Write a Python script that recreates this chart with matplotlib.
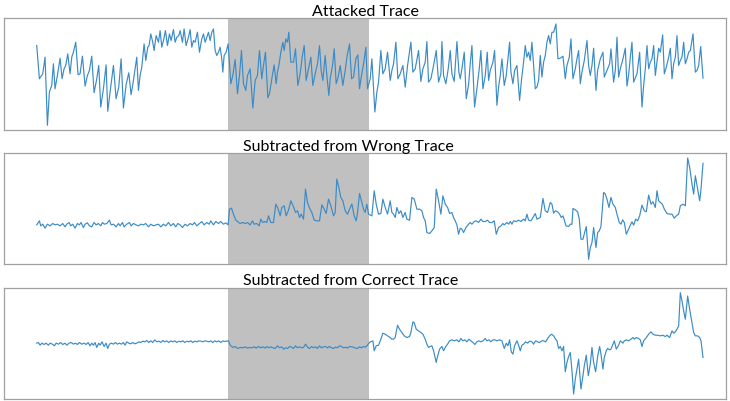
import matplotlib.pyplot as plt

# sample index / amplitude pairs for the three traces
attacked_t = [0, 8, 18, 25, 32, 38, 45, 50, 55, 62, 70, 76, 82, 87, 93, 100, 105, 110, 117, 124,
              130, 137, 145, 152, 158, 165, 172, 180, 186, 192, 200, 208, 213, 220, 230, 238, 246, 253, 260, 268,
              276, 283, 290, 300, 305, 310, 315, 322, 327, 333, 337, 342, 348, 352, 358, 365, 370, 375, 380, 386,
              392, 398, 403, 410, 415, 420, 426, 430, 437, 442, 448, 455, 460, 465, 470, 475, 482, 488, 495, 500,
              505, 510, 515, 520, 525, 530, 535, 540, 545, 550, 555, 558, 562, 568, 574, 578, 582, 588, 595, 602,
              608, 614, 620, 627, 632, 640, 648, 655, 662, 668, 675, 680, 686, 693, 698, 705, 712, 718, 722, 727,
              732, 738, 742, 747, 752, 756, 762, 770, 776, 783, 790, 796, 802, 808, 815, 822, 828, 835, 842, 848,
              853, 858, 865, 870, 876, 880, 887, 892, 898, 904, 910, 918, 925, 931, 938, 944, 950, 957, 963, 968,
              974, 980, 987, 992, 1000, 1005, 1014, 1020, 1025, 1032, 1038, 1045, 1052, 1060, 1065, 1070, 1077, 1083, 1090, 1098,
              1105, 1112, 1122, 1128, 1135, 1145, 1152, 1158, 1165, 1170, 1175, 1182, 1190, 1198, 1205, 1212, 1215, 1220, 1227, 1234,
              1240, 1245, 1252, 1260, 1266, 1270, 1275, 1282, 1288, 1295, 1300, 1305, 1313, 1320, 1327, 1332, 1338, 1345, 1351, 1355,
              1360, 1368, 1373, 1380, 1385, 1390, 1395, 1402, 1408, 1418, 1422, 1428, 1433, 1440, 1448, 1454, 1460, 1465, 1470, 1475,
              1480, 1485, 1490, 1495, 1500, 1505, 1510, 1515, 1520, 1525, 1530, 1535, 1540, 1545, 1550, 1557, 1563, 1570, 1578, 1585,
              1590, 1597, 1602, 1608, 1615, 1620, 1625, 1630, 1635, 1642, 1650, 1655, 1660, 1665, 1670, 1677, 1682, 1690, 1698, 1702,
              1710, 1718, 1722, 1730, 1735, 1740, 1745, 1750, 1758, 1765, 1770, 1775, 1780, 1785, 1790, 1800, 1808, 1815, 1820, 1825,
              1830, 1835, 1840, 1845, 1850, 1855, 1860, 1865, 1870, 1877, 1882, 1888, 1895, 1900, 1905, 1910, 1915, 1920, 1925, 1930,
              1935, 1940, 1945, 1950, 1955, 1960, 1968, 1975, 1980, 1985, 1991, 1998]
attacked_v = [260, 160, 175, 225, 20, 120, 140, 205, 130, 170, 222, 160, 190, 200, 235, 175, 225, 240, 270, 172,
              175, 228, 138, 170, 185, 228, 118, 160, 200, 75, 130, 202, 62, 120, 200, 100, 135, 220, 72, 142,
              178, 112, 155, 225, 125, 170, 195, 265, 215, 255, 260, 295, 270, 245, 290, 270, 305, 255, 275, 305,
              260, 295, 275, 308, 270, 285, 290, 305, 270, 310, 260, 285, 308, 255, 275, 270, 300, 240, 280, 295,
              270, 285, 300, 275, 300, 310, 245, 230, 240, 255, 220, 180, 230, 240, 265, 205, 145, 170, 218, 115,
              170, 245, 145, 125, 170, 190, 72, 155, 170, 245, 160, 200, 240, 103, 115, 160, 202, 145, 180, 205,
              240, 270, 245, 280, 270, 300, 210, 210, 250, 140, 175, 225, 260, 155, 190, 225, 140, 175, 205, 260,
              185, 155, 230, 170, 110, 160, 200, 250, 145, 165, 200, 140, 185, 230, 265, 160, 165, 220, 232, 130,
              170, 205, 255, 130, 160, 220, 60, 120, 150, 245, 175, 190, 240, 155, 185, 205, 270, 160, 175, 200,
              135, 200, 270, 180, 190, 245, 152, 190, 210, 272, 150, 160, 200, 245, 150, 175, 272, 170, 145, 190,
              245, 175, 152, 272, 180, 160, 190, 240, 100, 142, 205, 260, 75, 130, 190, 245, 130, 170, 240, 155,
              185, 210, 245, 80, 135, 170, 220, 140, 170, 270, 180, 145, 185, 200, 95, 160, 210, 260, 225, 240,
              215, 270, 200, 130, 135, 155, 230, 165, 210, 230, 270, 290, 265, 300, 300, 325, 220, 222, 228, 160,
              200, 225, 280, 160, 190, 220, 245, 145, 180, 215, 275, 200, 170, 200, 252, 125, 185, 220, 240, 165,
              185, 205, 250, 150, 185, 285, 165, 190, 220, 252, 138, 172, 225, 270, 150, 175, 240, 75, 140, 190,
              260, 190, 210, 220, 260, 170, 210, 252, 240, 292, 175, 195, 225, 252, 160, 205, 225, 290, 200, 215,
              225, 270, 205, 220, 240, 245, 295, 180, 185, 200, 257, 162]

wrong_t = [0, 8, 12, 18, 25, 32, 40, 48, 55, 62, 70, 78, 85, 90, 97, 102, 108, 115, 122, 128,
           133, 140, 145, 152, 158, 165, 172, 178, 185, 192, 197, 203, 210, 218, 223, 230, 238, 245, 250, 257,
           262, 270, 278, 283, 290, 298, 305, 312, 320, 327, 335, 342, 350, 358, 365, 372, 380, 387, 395, 402,
           410, 417, 423, 430, 437, 445, 452, 460, 467, 473, 480, 488, 495, 502, 510, 517, 522, 530, 537, 545,
           552, 560, 567, 574, 578, 584, 590, 597, 602, 610, 617, 625, 632, 640, 647, 652, 660, 667, 672, 678,
           685, 690, 695, 702, 710, 717, 723, 730, 735, 742, 748, 755, 762, 770, 776, 782, 788, 793, 800, 806,
           812, 818, 825, 832, 840, 848, 855, 862, 868, 875, 882, 890, 895, 900, 907, 912, 918, 925, 932, 938,
           945, 952, 958, 962, 968, 975, 980, 985, 990, 995, 1005, 1012, 1018, 1025, 1032, 1038, 1045, 1052, 1060, 1065,
           1070, 1075, 1080, 1086, 1092, 1098, 1105, 1110, 1118, 1125, 1132, 1140, 1148, 1155, 1160, 1165, 1170, 1178, 1185, 1192,
           1198, 1205, 1212, 1218, 1225, 1232, 1238, 1245, 1250, 1255, 1260, 1265, 1270, 1275, 1280, 1287, 1295, 1300, 1305, 1312,
           1318, 1325, 1332, 1338, 1345, 1352, 1358, 1365, 1372, 1378, 1385, 1392, 1398, 1402, 1410, 1415, 1420, 1425, 1430, 1438,
           1445, 1452, 1460, 1465, 1470, 1475, 1482, 1488, 1495, 1500,
           1510, 1518, 1525, 1532, 1540, 1545, 1550, 1555, 1562, 1568, 1573, 1578, 1582, 1587, 1595, 1600, 1605, 1608, 1615, 1622,
           1627, 1632, 1638, 1643, 1648, 1655, 1660, 1665, 1670, 1677, 1682, 1687, 1692, 1700, 1705, 1710, 1716, 1722, 1728, 1735,
           1740, 1747, 1752, 1757, 1762, 1768, 1775, 1780, 1785, 1790, 1796, 1802, 1808, 1815, 1822, 1828, 1835, 1842, 1848, 1855,
           1860, 1865, 1870, 1876, 1882, 1890, 1898, 1905, 1912, 1918, 1925, 1930, 1938, 1945, 1952, 1958, 1965, 1970, 1975, 1982,
           1988, 1992, 1998]
wrong_v = [128, 140, 125, 130, 118, 130, 125, 132, 128, 130, 125, 132, 122, 130, 135, 125, 130, 118, 132, 128,
           135, 120, 130, 134, 125, 122, 135, 128, 132, 125, 135, 130, 132, 142, 128, 130, 122, 132, 125, 135,
           122, 130, 135, 125, 132, 128, 125, 130, 128, 132, 122, 130, 125, 128, 130, 122, 130, 125, 135, 125,
           132, 122, 132, 128, 120, 130, 125, 132, 128, 135, 125, 132, 138, 128, 135, 130, 140, 128, 138, 132,
           138, 130, 134, 128, 175, 178, 160, 142, 138, 132, 135, 132, 135, 128, 140, 130, 132, 125, 145, 135,
           138, 135, 155, 135, 135, 190, 178, 155, 180, 185, 155, 172, 200, 182, 165, 170, 150, 160, 145, 235,
           195, 178, 165, 142, 140, 140, 188, 175, 162, 205, 185, 155, 165, 265, 235, 210, 200, 170, 160, 175,
           190, 155, 140, 165, 222, 195, 175, 165, 190, 160, 155, 230, 190, 160, 162, 205, 180, 160, 200, 165,
           160, 150, 180, 162, 170, 150, 165, 145, 142, 210, 205, 175, 175, 170, 150, 140, 105, 102, 110, 120,
           235, 200, 160, 215, 190, 180, 162, 165, 150, 140, 128, 100, 118, 115, 105, 120, 130, 135, 130, 138,
           140, 135, 145, 138, 138, 142, 135, 135, 140, 100, 120, 125, 132, 128, 135, 130, 138, 130, 140, 138,
           142, 138, 145, 140, 160, 142, 140, 150, 162, 145,
           150, 207, 170, 165, 195, 190, 163, 170, 167, 160, 150, 155, 143, 125, 123, 130, 130, 177, 173, 167,
           145, 85, 85, 105, 123, 25, 60, 75, 120, 60, 105, 110, 123, 225, 220, 205, 180, 210, 190, 180,
           160, 135, 130, 143, 135, 100, 115, 127, 137, 127, 145, 140, 155, 187, 170, 167, 217, 190, 197, 180,
           230, 200, 195, 190, 175, 162, 160, 160, 148, 155, 160, 185, 190, 185, 328, 300, 250, 220, 275, 235,
           200, 235, 312]

correct_t = [0, 5, 10, 16, 22, 28, 35, 40, 47, 53, 58, 65, 72, 78, 85, 90, 97, 103, 110, 116,
             122, 128, 135, 142, 148, 154, 160, 165, 170, 175, 180, 186, 190, 196, 202, 208, 213, 218, 224, 230,
             236, 242, 248, 254, 260, 265, 270, 276, 282, 288, 294, 300, 306, 312, 318, 324, 330, 336, 342, 348,
             354, 360, 366, 372, 378, 384, 390, 396, 402, 408, 414, 420, 426, 432, 438, 444, 450, 456, 462, 468,
             474, 480, 486, 492, 498, 504, 510, 516, 522, 528, 534, 540, 546, 552, 558, 564, 570, 575, 580, 588,
             595, 602, 610, 618, 625, 632, 638, 645, 652, 658, 665, 672, 678, 685, 690, 696, 702, 708, 715, 722,
             728, 735, 740, 746, 752, 758, 764, 770, 776, 782, 788, 794, 800, 806, 812, 818, 824, 830, 836, 842,
             848, 854, 860, 866, 872, 878, 884, 890, 896, 902, 908, 914, 920, 926, 932, 938, 944, 950, 956, 962,
             968, 974, 980, 986, 990, 996, 1000, 1008, 1012, 1018, 1025, 1032, 1038, 1045, 1052, 1060, 1065, 1070, 1075, 1082,
             1088, 1095, 1102, 1110, 1118, 1122, 1128, 1132, 1138, 1145, 1152, 1158, 1165, 1170, 1175, 1180, 1185, 1190, 1198, 1202,
             1208, 1215, 1220, 1225, 1232, 1238, 1245, 1252, 1260, 1266, 1272, 1278, 1284, 1290, 1296, 1302, 1308, 1314, 1320, 1326,
             1332, 1338, 1345, 1350, 1356, 1362, 1368, 1374, 1380, 1388, 1395, 1402, 1408, 1413, 1418, 1423, 1428, 1433, 1440, 1445,
             1450, 1455, 1460, 1466, 1472, 1478, 1485, 1490, 1496, 1502, 1508, 1514, 1520, 1526, 1532, 1538, 1544, 1550, 1556, 1560,
             1565, 1570, 1575, 1580, 1585, 1590, 1595, 1600, 1605, 1610, 1615, 1620, 1625, 1632, 1638, 1642, 1648, 1654, 1660, 1665,
             1670, 1676, 1682, 1688, 1692, 1698, 1702, 1708, 1712, 1718, 1722, 1728, 1732, 1738, 1745, 1750, 1758, 1762, 1768, 1775,
             1782, 1788, 1792, 1798, 1805, 1810, 1815, 1820, 1828, 1835, 1842, 1848, 1855, 1862, 1870, 1877, 1885, 1890, 1898, 1905,
             1910, 1915, 1920, 1925, 1930, 1935, 1940, 1945, 1952, 1958, 1965, 1970, 1975, 1982, 1988, 1992, 1998]
correct_v = [178, 180, 172, 178, 174, 178, 172, 178, 175, 170, 178, 175, 180, 174, 178, 172, 178, 180, 175, 178,
             174, 180, 175, 178, 174, 180, 170, 178, 172, 180, 165, 178, 172, 182, 168, 178, 162, 175, 178, 175,
             180, 175, 178, 175, 180, 172, 182, 178, 176, 180, 176, 178, 182, 180, 184, 182, 186, 180, 185, 180,
             188, 182, 184, 180, 186, 182, 185, 180, 185, 182, 185, 180, 184, 182, 185, 180, 184, 182, 185, 180,
             184, 182, 185, 184, 182, 185, 184, 182, 185, 180, 185, 182, 185, 180, 185, 183, 184, 185, 172, 165,
             168, 162, 165, 164, 167, 163, 165, 164, 167, 163, 168, 164, 167, 163, 168, 164, 167, 164, 162, 170,
             164, 167, 160, 164, 162, 168, 166, 162, 170, 164, 167, 164, 165, 175, 166, 162, 168, 164, 167, 162,
             170, 164, 167, 168, 164, 168, 164, 162, 166, 164, 170, 168, 164, 166, 163, 168, 167, 166, 163, 162,
             167, 164, 168, 166, 170, 178, 182, 185, 155, 170, 172, 190, 208, 205, 200, 195, 190, 190, 195, 232,
             220, 210, 200, 195, 198, 210, 242, 240, 220, 215, 210, 205, 190, 175, 165, 168, 170, 155, 120, 138,
             160, 168, 155, 165, 175, 185, 188, 185, 188, 182, 192, 185, 188, 182, 190, 185, 180, 174, 182, 185,
             182, 185, 192, 185, 188, 182, 188, 188, 185, 188, 185, 162, 178, 170, 188, 152, 145, 170, 185, 172,
             155, 172, 175, 182, 178, 184, 182, 175, 185, 182, 180, 185, 185, 182, 192, 200, 205, 200, 190, 185,
             162, 168, 155, 168, 92, 120, 138, 150, 95, 25, 70, 100, 130, 40, 80, 110, 142, 80, 115, 165,
             120, 92, 138, 168, 145, 100, 135, 155, 162, 158, 160, 175, 185, 160, 172, 185, 178, 185, 188, 185,
             190, 195, 190, 195, 192, 188, 168, 185, 195, 205, 212, 205, 202, 202, 200, 202, 198, 202, 195, 215,
             208, 212, 220, 230, 330, 305, 275, 250, 320, 280, 240, 210, 200, 200, 195, 185, 135]

window_start, window_end = 575, 995

fig, axes = plt.subplots(3, 1, figsize=(7.3, 4.02), dpi=100)
fig.subplots_adjust(left=0.006, right=0.995, top=0.952, bottom=0.005, hspace=0.21)

panels = [
    ("Attacked Trace", attacked_t, attacked_v, (7, 342), 0.5),
    ("Subtracted from Wrong Trace", wrong_t, wrong_v, (10, 343), 0.476),
    ("Subtracted from Correct Trace", correct_t, correct_v, (10, 345), 0.48),
]

for ax, (title, t, v, ylim, tx) in zip(axes, panels):
    ax.axvspan(window_start, window_end, color="#c0c0c0", lw=0, zorder=0)
    ax.plot(t, v, color="#3b8bc6", lw=0.85)
    ax.set_xlim(-97, 2068)
    ax.set_ylim(*ylim)
    ax.set_xticks([])
    ax.set_yticks([])
    for s in ax.spines.values():
        s.set_color("#a0a0a0")
        s.set_linewidth(0.9)
    ax.set_title(title, fontsize=11.5, family="Lato", pad=2.5, x=tx)

plt.savefig("out.png")
